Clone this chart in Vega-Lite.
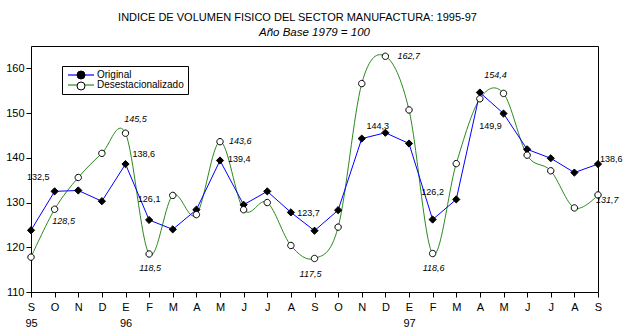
{
  "$schema": "https://vega.github.io/schema/vega-lite/v6.json",
  "width": 567,
  "height": 246,
  "autosize": "none",
  "padding": {"left": 31, "top": 46, "right": 40, "bottom": 44},
  "background": "white",
  "config": {
    "view": {"stroke": "black", "strokeWidth": 1},
    "font": "Liberation Sans",
    "locale": {"number": {"decimal": ",", "thousands": ".", "grouping": [3], "currency": ["", ""]}}
  },
  "title": {
    "text": "INDICE DE VOLUMEN FISICO DEL SECTOR MANUFACTURA: 1995-97",
    "subtitle": "Año Base 1979 = 100",
    "anchor": "middle",
    "dx": -17,
    "fontSize": 11,
    "fontWeight": "normal",
    "color": "black",
    "subtitleFontSize": 11.5,
    "subtitleFontStyle": "italic",
    "subtitleColor": "black",
    "subtitlePadding": 4,
    "offset": 8,
    "encode": {"subtitle": {"update": {"dx": {"value": 0}}}}
  },
  "data": {"values": [
    {"periodo": "1995-09", "serie": "Original", "valor": 123.8},
    {"periodo": "1995-10", "serie": "Original", "valor": 132.5},
    {"periodo": "1995-11", "serie": "Original", "valor": 132.7},
    {"periodo": "1995-12", "serie": "Original", "valor": 130.3},
    {"periodo": "1996-01", "serie": "Original", "valor": 138.6},
    {"periodo": "1996-02", "serie": "Original", "valor": 126.1},
    {"periodo": "1996-03", "serie": "Original", "valor": 124.0},
    {"periodo": "1996-04", "serie": "Original", "valor": 128.4},
    {"periodo": "1996-05", "serie": "Original", "valor": 139.4},
    {"periodo": "1996-06", "serie": "Original", "valor": 129.5},
    {"periodo": "1996-07", "serie": "Original", "valor": 132.5},
    {"periodo": "1996-08", "serie": "Original", "valor": 127.8},
    {"periodo": "1996-09", "serie": "Original", "valor": 123.7},
    {"periodo": "1996-10", "serie": "Original", "valor": 128.3},
    {"periodo": "1996-11", "serie": "Original", "valor": 144.3},
    {"periodo": "1996-12", "serie": "Original", "valor": 145.6},
    {"periodo": "1997-01", "serie": "Original", "valor": 143.2},
    {"periodo": "1997-02", "serie": "Original", "valor": 126.2},
    {"periodo": "1997-03", "serie": "Original", "valor": 130.7},
    {"periodo": "1997-04", "serie": "Original", "valor": 154.6},
    {"periodo": "1997-05", "serie": "Original", "valor": 149.9},
    {"periodo": "1997-06", "serie": "Original", "valor": 141.9},
    {"periodo": "1997-07", "serie": "Original", "valor": 139.9},
    {"periodo": "1997-08", "serie": "Original", "valor": 136.7},
    {"periodo": "1997-09", "serie": "Original", "valor": 138.6},
    {"periodo": "1995-09", "serie": "Desestacionalizado", "valor": 117.8},
    {"periodo": "1995-10", "serie": "Desestacionalizado", "valor": 128.5},
    {"periodo": "1995-11", "serie": "Desestacionalizado", "valor": 135.6},
    {"periodo": "1995-12", "serie": "Desestacionalizado", "valor": 141.0},
    {"periodo": "1996-01", "serie": "Desestacionalizado", "valor": 145.5},
    {"periodo": "1996-02", "serie": "Desestacionalizado", "valor": 118.5},
    {"periodo": "1996-03", "serie": "Desestacionalizado", "valor": 131.6},
    {"periodo": "1996-04", "serie": "Desestacionalizado", "valor": 127.3},
    {"periodo": "1996-05", "serie": "Desestacionalizado", "valor": 143.6},
    {"periodo": "1996-06", "serie": "Desestacionalizado", "valor": 128.4},
    {"periodo": "1996-07", "serie": "Desestacionalizado", "valor": 130.0},
    {"periodo": "1996-08", "serie": "Desestacionalizado", "valor": 120.4},
    {"periodo": "1996-09", "serie": "Desestacionalizado", "valor": 117.5},
    {"periodo": "1996-10", "serie": "Desestacionalizado", "valor": 124.5},
    {"periodo": "1996-11", "serie": "Desestacionalizado", "valor": 156.6},
    {"periodo": "1996-12", "serie": "Desestacionalizado", "valor": 162.7},
    {"periodo": "1997-01", "serie": "Desestacionalizado", "valor": 150.7},
    {"periodo": "1997-02", "serie": "Desestacionalizado", "valor": 118.6},
    {"periodo": "1997-03", "serie": "Desestacionalizado", "valor": 138.7},
    {"periodo": "1997-04", "serie": "Desestacionalizado", "valor": 153.2},
    {"periodo": "1997-05", "serie": "Desestacionalizado", "valor": 154.4},
    {"periodo": "1997-06", "serie": "Desestacionalizado", "valor": 140.6},
    {"periodo": "1997-07", "serie": "Desestacionalizado", "valor": 137.1},
    {"periodo": "1997-08", "serie": "Desestacionalizado", "valor": 128.8},
    {"periodo": "1997-09", "serie": "Desestacionalizado", "valor": 131.7}
  ]},
  "encoding": {
    "x": {
      "field": "periodo", "type": "ordinal",
      "scale": {"type": "point", "padding": 0},
      "axis": {
        "title": null, "domain": false, "grid": false,
        "tickColor": "black", "tickSize": 5, "labelAngle": 0,
        "labelFontSize": 11, "labelColor": "black", "labelPadding": 4,
        "labelBaseline": "top", "labelLineHeight": 16,
        "labelExpr": "datum.value == '1995-09' ? ['S', '95'] : (substring(datum.value, 5, 7) == '01' ? ['E', substring(datum.value, 2, 4)] : substring('EFMAMJJASOND', toNumber(substring(datum.value, 5, 7)) - 1, toNumber(substring(datum.value, 5, 7))))"
      }
    },
    "y": {
      "field": "valor", "type": "quantitative",
      "scale": {"domain": [110, 165], "nice": false, "zero": false},
      "axis": {
        "title": null, "domain": false, "grid": false,
        "values": [110, 120, 130, 140, 150, 160],
        "tickColor": "black", "tickSize": 5,
        "labelFontSize": 11, "labelColor": "black", "labelPadding": 2
      }
    }
  },
  "layer": [
    {
      "transform": [{"filter": "datum.serie == 'Desestacionalizado'"}],
      "mark": {"type": "line", "interpolate": "cardinal", "strokeWidth": 1},
      "encoding": {
        "color": {
          "field": "serie", "type": "nominal",
          "scale": {"domain": ["Original", "Desestacionalizado"], "range": ["#0000ff", "#2a8a1e"]},
          "legend": {
            "title": null, "orient": "none", "legendX": 31, "legendY": 20,
            "strokeColor": "black", "fillColor": "white", "padding": 4,
            "symbolType": "M-3.25,0H3.25", "symbolSize": 64, "symbolStrokeWidth": 1.2, "symbolOffset": 10,
            "labelFontSize": 10, "labelColor": "black", "labelOffset": 11, "rowPadding": -3
          }
        }
      }
    },
    {
      "transform": [{"filter": "datum.serie == 'Original'"}],
      "mark": {"type": "line", "strokeWidth": 1},
      "encoding": {
        "color": {"field": "serie", "type": "nominal"}
      }
    },
    {
      "mark": {"type": "point", "filled": true, "stroke": "black", "strokeWidth": 1, "size": 64, "opacity": 1},
      "encoding": {
        "shape": {
          "field": "serie", "type": "nominal", "sort": ["Original", "Desestacionalizado"],
          "scale": {"range": ["M0,-0.9L0.9,0L0,0.9L-0.9,0Z", "M-0.8,0A0.8,0.8,0,1,0,0.8,0A0.8,0.8,0,1,0,-0.8,0Z"]},
          "legend": {
            "title": null, "orient": "none", "legendX": 31, "legendY": 20, "padding": 4,
            "symbolSize": 64, "symbolStrokeColor": "black", "symbolStrokeWidth": 1, "symbolOffset": 10,
            "labelFontSize": 10, "labelColor": "transparent", "labelOffset": 11, "rowPadding": -3,
            "labelExpr": "''"
          }
        },
        "fill": {
          "field": "serie", "type": "nominal", "sort": ["Original", "Desestacionalizado"],
          "scale": {"range": ["black", "white"]},
          "legend": {
            "title": null, "orient": "none", "legendX": 31, "legendY": 20, "padding": 4,
            "symbolSize": 64, "symbolStrokeColor": "black", "symbolStrokeWidth": 1, "symbolOffset": 10,
            "labelFontSize": 10, "labelColor": "transparent", "labelOffset": 11, "rowPadding": -3,
            "labelExpr": "''"
          }
        }
      }
    },
    {
      "transform": [{"filter": "datum.serie == 'Original' && datum.periodo == '1995-10'"}],
      "mark": {"type": "text", "align": "right", "baseline": "middle", "dx": -5, "dy": -14, "fontSize": 9, "color": "black"},
      "encoding": {"text": {"field": "valor", "type": "quantitative", "format": ".1f"}}
    },
    {
      "transform": [{"filter": "datum.serie == 'Original' && datum.periodo == '1996-01'"}],
      "mark": {"type": "text", "align": "left", "baseline": "middle", "dx": 7, "dy": -10, "fontSize": 9, "color": "black"},
      "encoding": {"text": {"field": "valor", "type": "quantitative", "format": ".1f"}}
    },
    {
      "transform": [{"filter": "datum.serie == 'Original' && datum.periodo == '1996-02'"}],
      "mark": {"type": "text", "align": "center", "baseline": "middle", "dx": 0, "dy": -21, "fontSize": 9, "color": "black"},
      "encoding": {"text": {"field": "valor", "type": "quantitative", "format": ".1f"}}
    },
    {
      "transform": [{"filter": "datum.serie == 'Original' && datum.periodo == '1996-05'"}],
      "mark": {"type": "text", "align": "left", "baseline": "middle", "dx": 8, "dy": -2, "fontSize": 9, "color": "black"},
      "encoding": {"text": {"field": "valor", "type": "quantitative", "format": ".1f"}}
    },
    {
      "transform": [{"filter": "datum.serie == 'Original' && datum.periodo == '1996-09'"}],
      "mark": {"type": "text", "align": "center", "baseline": "middle", "dx": -6, "dy": -18, "fontSize": 9, "color": "black"},
      "encoding": {"text": {"field": "valor", "type": "quantitative", "format": ".1f"}}
    },
    {
      "transform": [{"filter": "datum.serie == 'Original' && datum.periodo == '1996-11'"}],
      "mark": {"type": "text", "align": "center", "baseline": "middle", "dx": 16, "dy": -13, "fontSize": 9, "color": "black"},
      "encoding": {"text": {"field": "valor", "type": "quantitative", "format": ".1f"}}
    },
    {
      "transform": [{"filter": "datum.serie == 'Original' && datum.periodo == '1997-02'"}],
      "mark": {"type": "text", "align": "center", "baseline": "middle", "dx": 0, "dy": -28, "fontSize": 9, "color": "black"},
      "encoding": {"text": {"field": "valor", "type": "quantitative", "format": ".1f"}}
    },
    {
      "transform": [{"filter": "datum.serie == 'Original' && datum.periodo == '1997-05'"}],
      "mark": {"type": "text", "align": "center", "baseline": "middle", "dx": -13, "dy": 12, "fontSize": 9, "color": "black"},
      "encoding": {"text": {"field": "valor", "type": "quantitative", "format": ".1f"}}
    },
    {
      "transform": [{"filter": "datum.serie == 'Original' && datum.periodo == '1997-09'"}],
      "mark": {"type": "text", "align": "left", "baseline": "middle", "dx": 2, "dy": -5, "fontSize": 9, "color": "black"},
      "encoding": {"text": {"field": "valor", "type": "quantitative", "format": ".1f"}}
    },
    {
      "transform": [{"filter": "datum.serie == 'Desestacionalizado' && datum.periodo == '1995-10'"}],
      "mark": {"type": "text", "align": "center", "baseline": "middle", "dx": 9, "dy": 12, "fontSize": 9, "fontStyle": "italic", "color": "black"},
      "encoding": {"text": {"field": "valor", "type": "quantitative", "format": ".1f"}}
    },
    {
      "transform": [{"filter": "datum.serie == 'Desestacionalizado' && datum.periodo == '1996-01'"}],
      "mark": {"type": "text", "align": "center", "baseline": "middle", "dx": 10, "dy": -14, "fontSize": 9, "fontStyle": "italic", "color": "black"},
      "encoding": {"text": {"field": "valor", "type": "quantitative", "format": ".1f"}}
    },
    {
      "transform": [{"filter": "datum.serie == 'Desestacionalizado' && (datum.periodo == '1996-02' || datum.periodo == '1997-02')"}],
      "mark": {"type": "text", "align": "center", "baseline": "middle", "dx": 1, "dy": 14, "fontSize": 9, "fontStyle": "italic", "color": "black"},
      "encoding": {"text": {"field": "valor", "type": "quantitative", "format": ".1f"}}
    },
    {
      "transform": [{"filter": "datum.serie == 'Desestacionalizado' && datum.periodo == '1996-05'"}],
      "mark": {"type": "text", "align": "left", "baseline": "middle", "dx": 9, "dy": -1, "fontSize": 9, "fontStyle": "italic", "color": "black"},
      "encoding": {"text": {"field": "valor", "type": "quantitative", "format": ".1f"}}
    },
    {
      "transform": [{"filter": "datum.serie == 'Desestacionalizado' && datum.periodo == '1996-09'"}],
      "mark": {"type": "text", "align": "center", "baseline": "middle", "dx": -4, "dy": 16, "fontSize": 9, "fontStyle": "italic", "color": "black"},
      "encoding": {"text": {"field": "valor", "type": "quantitative", "format": ".1f"}}
    },
    {
      "transform": [{"filter": "datum.serie == 'Desestacionalizado' && datum.periodo == '1996-12'"}],
      "mark": {"type": "text", "align": "left", "baseline": "middle", "dx": 12, "dy": 0, "fontSize": 9, "fontStyle": "italic", "color": "black"},
      "encoding": {"text": {"field": "valor", "type": "quantitative", "format": ".1f"}}
    },
    {
      "transform": [{"filter": "datum.serie == 'Desestacionalizado' && datum.periodo == '1997-05'"}],
      "mark": {"type": "text", "align": "center", "baseline": "middle", "dx": -8, "dy": -18, "fontSize": 9, "fontStyle": "italic", "color": "black"},
      "encoding": {"text": {"field": "valor", "type": "quantitative", "format": ".1f"}}
    },
    {
      "transform": [{"filter": "datum.serie == 'Desestacionalizado' && datum.periodo == '1997-09'"}],
      "mark": {"type": "text", "align": "left", "baseline": "middle", "dx": -2, "dy": 5, "fontSize": 9, "fontStyle": "italic", "color": "black"},
      "encoding": {"text": {"field": "valor", "type": "quantitative", "format": ".1f"}}
    }
  ]
}
